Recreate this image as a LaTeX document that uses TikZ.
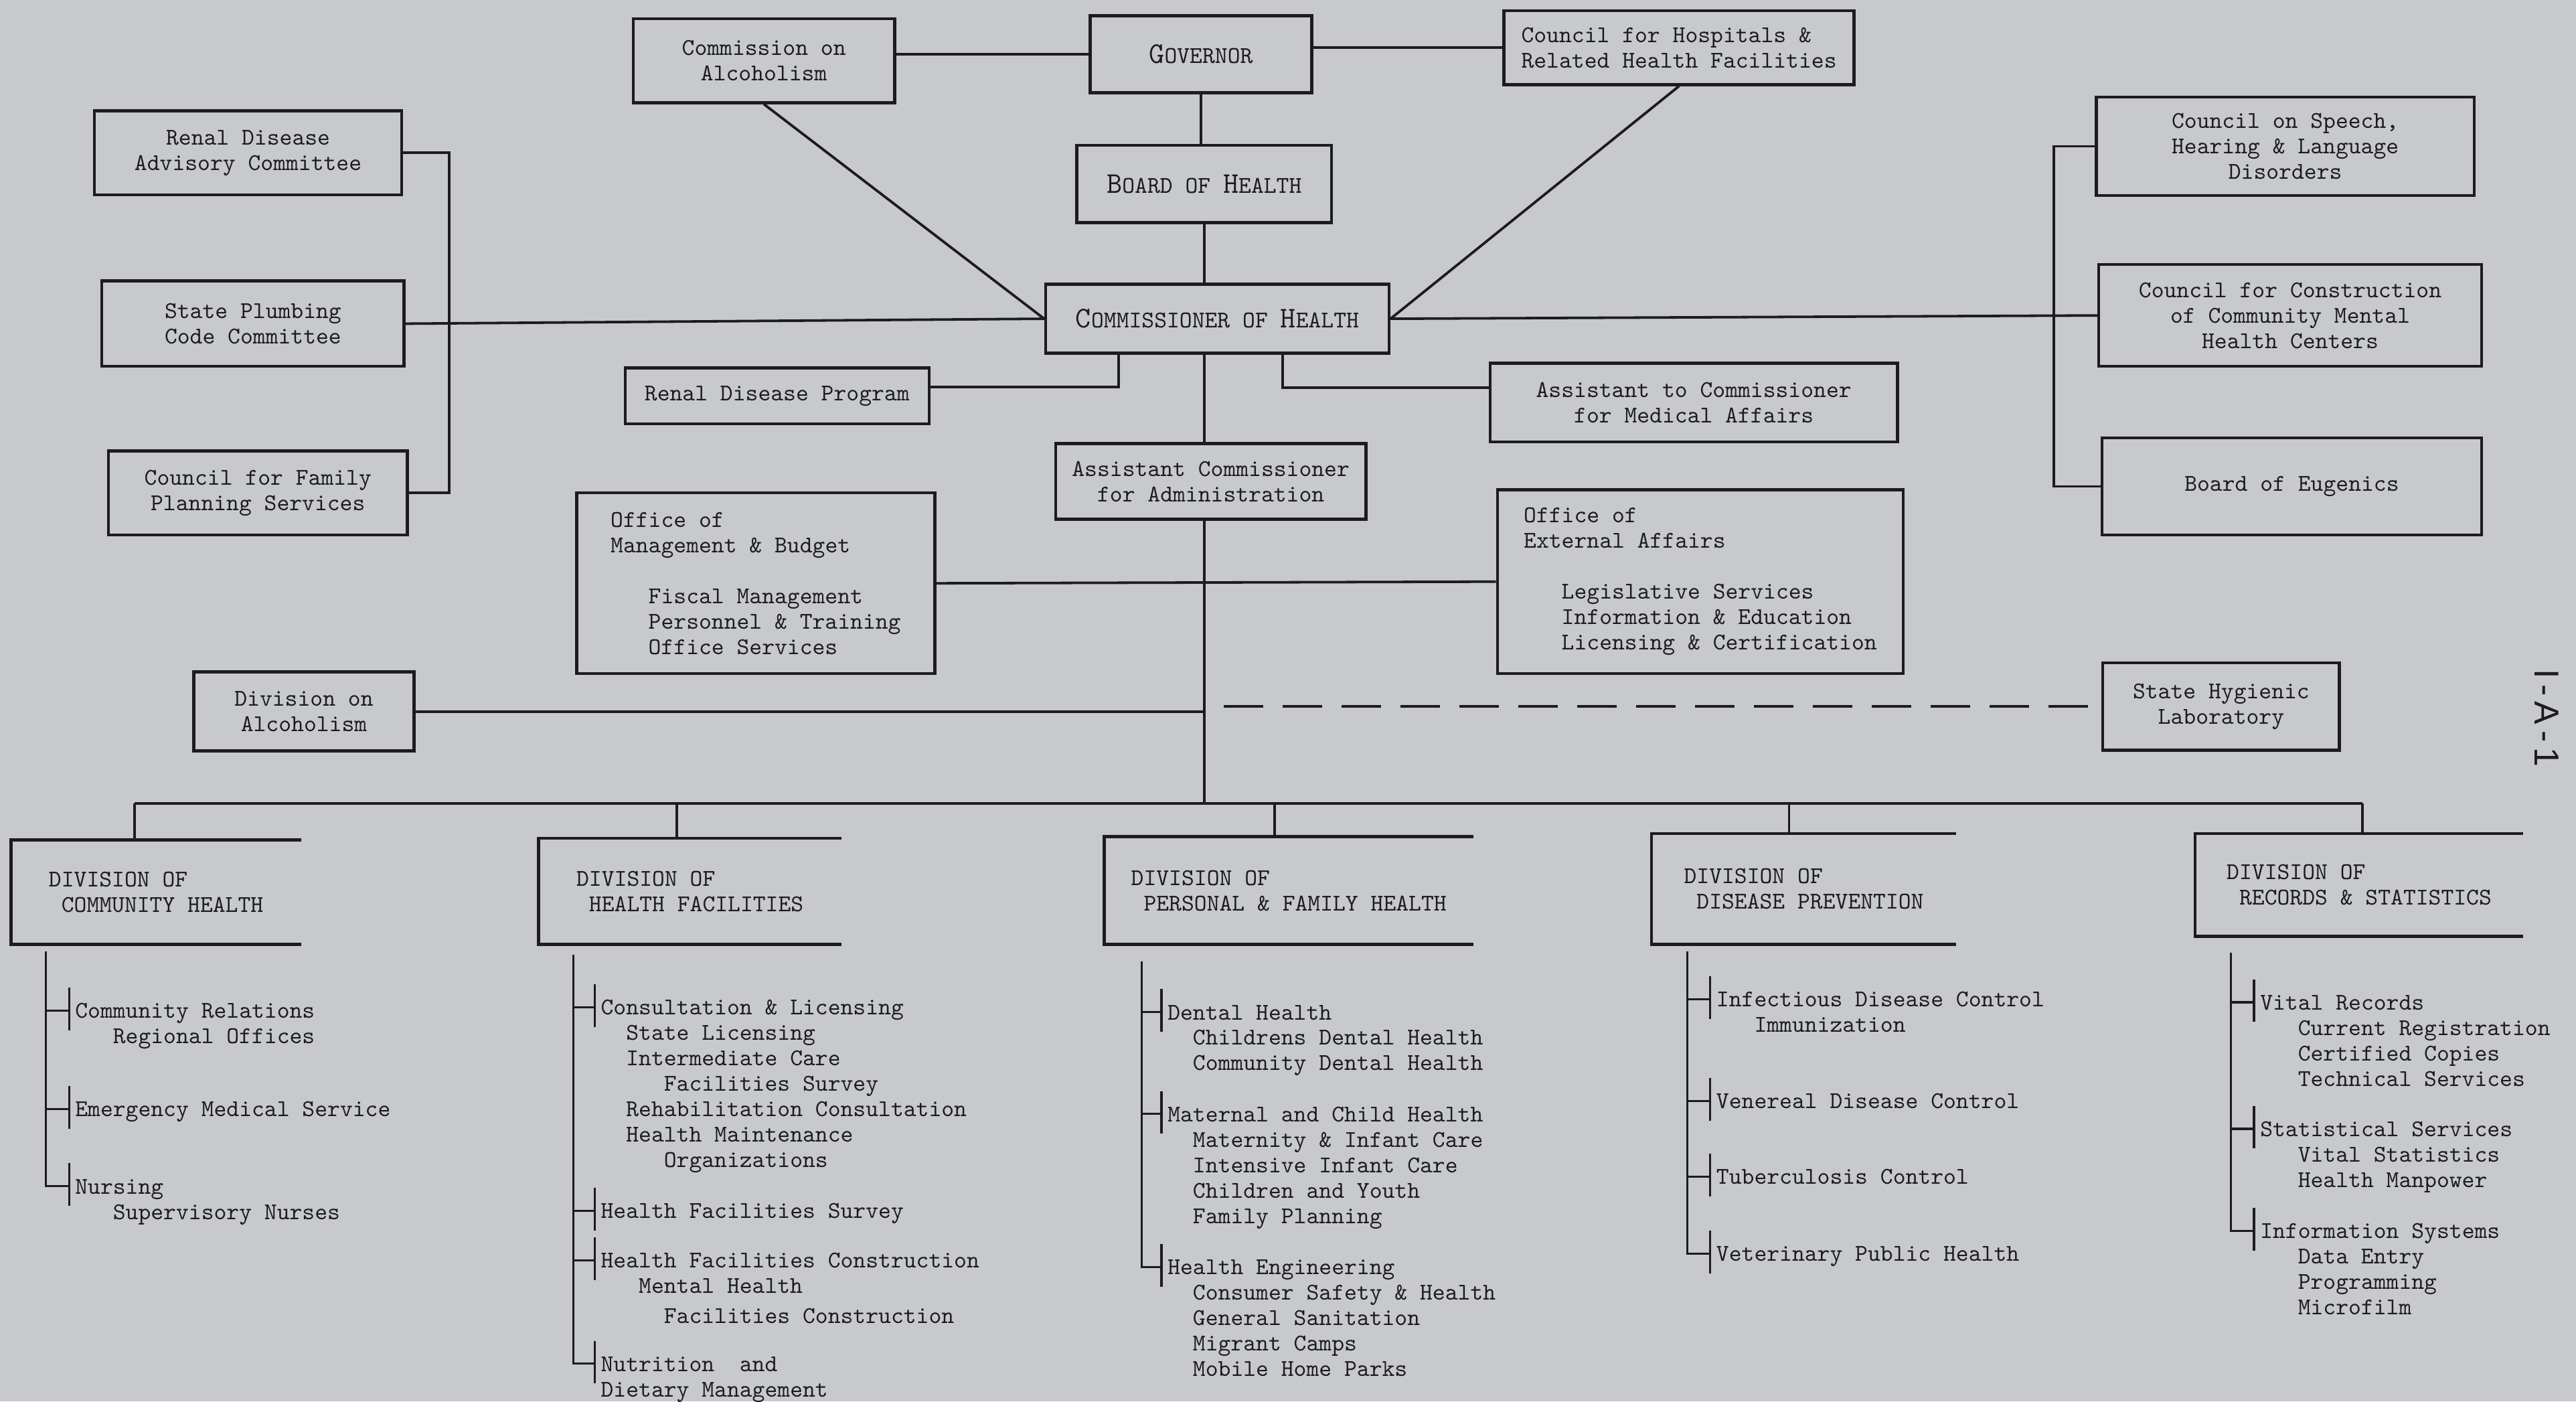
\documentclass[tikz,border=0pt]{standalone}
\usepackage{fontspec}
\setsansfont{Liberation Sans}
\usetikzlibrary{calc}
\definecolor{paper}{RGB}{199,201,205}
\definecolor{ink}{RGB}{28,28,30}
\newcommand\indt[1]{\hspace*{#1\fontcharwd\font`\0}}
\newcommand\capsc[2]{{\fontsize{13}{15}\selectfont #1}#2}

\begin{document}
\begin{tikzpicture}
  [x=0.025cm,y=-0.025cm,color=ink,line width=1.1pt,
   every node/.style={font=\ttfamily\fontsize{10.4}{11}\selectfont},
   box/.style 2 args={draw,line width=1.3pt,minimum width=#1*0.025cm,minimum height=#2*0.025cm,inner sep=2pt,align=center},
   lbox/.style 2 args={box={#1}{#2},align=left},
   divbox/.style 2 args={minimum width=#1*0.025cm,minimum height=#2*0.025cm,inner sep=2pt,align=left},
   item/.style={anchor=north west,align=left,inner sep=0pt},
   dashline/.style={line width=1.3pt,dash pattern=on 17pt off 8.5pt,dash phase=17pt},
   thinline/.style={line width=0.9pt}]
  \path[use as bounding box,fill=paper] (0,0) rectangle (1568,853);

  \node[box={135}{47}] (gov) at (731,33) {\capsc{G}{OVERNOR}};
  \node[box={159}{51}] (coa) at (465,37) {Commission on\\Alcoholism};
  \node[lbox={213}{45}] (chr) at (1022,29) {Council for Hospitals \&\\Related Health Facilities};
  \node[box={155}{47}] (boh) at (733,112) {\capsc{B}{OARD OF} \capsc{H}{EALTH}};
  \node[box={209}{42}] (coh) at (741,194) {\capsc{C}{OMMISSIONER OF} \capsc{H}{EALTH}};
  \node[box={187}{51}] (rda) at (151,93) {Renal Disease\\Advisory Committee};
  \node[box={184}{52}] (spc) at (154,197) {State Plumbing\\Code Committee};
  \node[box={182}{51}] (cfp) at (157,300) {Council for Family\\Planning Services};
  \node[box={185}{34}] (rdp) at (473,241) {Renal Disease Program};
  \node[box={248}{48}] (atc) at (1031,245) {Assistant to Commissioner\\for Medical Affairs};
  \node[box={189}{46}] (aca) at (737,293) {Assistant Commissioner\\for Administration};
  \node[lbox={218}{110}] (omb) at (460,355) {Office of\\Management \& Budget\\[11pt]\indt{3}Fiscal Management\\\indt{3}Personnel \& Training\\\indt{3}Office Services};
  \node[lbox={247}{112}] (oea) at (1035,354) {Office of\\External Affairs\\[11pt]\indt{3}Legislative Services\\\indt{3}Information \& Education\\\indt{3}Licensing \& Certification};
  \node[box={134}{48}] (doa) at (185,433) {Division on\\Alcoholism};
  \node[box={144}{53}] (shl) at (1352,430) {State Hygienic\\Laboratory};
  \node[box={230}{60}] (csh) at (1391,89) {Council on Speech,\\Hearing \& Language\\Disorders};
  \node[box={233}{62}] (ccm) at (1394,192) {Council for Construction\\of Community Mental\\Health Centers};
  \node[box={231}{59}] (boe) at (1395,296) {Board of Eugenics};

  \node[divbox={175}{62}] (ch) at (95,543) {DIVISION OF\\\indt{1}COMMUNITY HEALTH};
  \node[divbox={183}{63}] (hf) at (420,542.5) {DIVISION OF\\\indt{1}HEALTH FACILITIES};
  \node[divbox={223}{64}] (pf) at (784.5,542) {DIVISION OF\\\indt{1}PERSONAL \& FAMILY HEALTH};
  \node[divbox={184}{66}] (dp) at (1098,541) {DIVISION OF\\\indt{1}DISEASE PREVENTION};
  \node[divbox={198}{61}] (rs) at (1436,538.5) {DIVISION OF\\\indt{1}RECORDS \& STATISTICS};

  \coordinate (sp) at (733,489);
  \coordinate (d1) at (82,489);
  \coordinate (d2) at (412,489);
  \coordinate (d3) at (776,489);
  \coordinate (d4) at (1089,489);
  \coordinate (d5) at (1438,489);
  \coordinate (chv) at (28,579);
  \coordinate (hfv) at (349,581);
  \coordinate (pfv) at (695,585);
  \coordinate (dpv) at (1027,579);
  \coordinate (rsv) at (1358,580);

  \node[item] (ch1) at (45,608) {\strut Community Relations\\\indt{3}Regional Offices};
  \node[item] (ch2) at (45,668) {\strut Emergency Medical Service};
  \node[item] (ch3) at (45,715) {\strut Nursing\\\indt{3}Supervisory Nurses};
  \node[item] (hf1) at (365,606) {\strut Consultation \& Licensing\\\indt{2}State Licensing\\\indt{2}Intermediate Care\\\indt{5}Facilities Survey\\\indt{2}Rehabilitation Consultation\\\indt{2}Health Maintenance\\\indt{5}Organizations};
  \node[item] (hf2) at (365,730) {\strut Health Facilities Survey};
  \node[item] (hf3) at (365,760) {\strut Health Facilities Construction\\\indt{3}Mental Health\\[2pt]\indt{5}Facilities Construction};
  \node[item] (hf4) at (365,823) {\strut Nutrition\indt{2}and\\Dietary Management};
  \node[item] (pf1) at (710,609) {\strut Dental Health\\\indt{2}Childrens Dental Health\\\indt{2}Community Dental Health};
  \node[item] (pf2) at (710,671) {\strut Maternal and Child Health\\\indt{2}Maternity \& Infant Care\\\indt{2}Intensive Infant Care\\\indt{2}Children and Youth\\\indt{2}Family Planning};
  \node[item] (pf3) at (710,764) {\strut Health Engineering\\\indt{2}Consumer Safety \& Health\\\indt{2}General Sanitation\\\indt{2}Migrant Camps\\\indt{2}Mobile Home Parks};
  \node[item] (dp1) at (1044,601) {\strut Infectious Disease Control\\\indt{3}Immunization};
  \node[item] (dp2) at (1044,663) {\strut Venereal Disease Control};
  \node[item] (dp3) at (1044,709) {\strut Tuberculosis Control};
  \node[item] (dp4) at (1044,756) {\strut Veterinary Public Health};
  \node[item] (rs1) at (1375,603) {\strut Vital Records\\\indt{3}Current Registration\\\indt{3}Certified Copies\\\indt{3}Technical Services};
  \node[item] (rs2) at (1375,680) {\strut Statistical Services\\\indt{3}Vital Statistics\\\indt{3}Health Manpower};
  \node[item] (rs3) at (1375,742) {\strut Information Systems\\\indt{3}Data Entry\\\indt{3}Programming\\\indt{3}Microfilm};

  \node[font=\sffamily\fontsize{15}{18}\selectfont,rotate=-90] (pg) at (1550,437) {I\,-\,A\,-\,1};

  \draw (coa.east |- gov) -- (gov.west);
  \draw (gov.east |- chr) -- (chr.west);
  \draw (gov.south) -- (gov.south |- boh.north);
  \draw (boh.south) -- (boh.south |- coh.north);
  \draw (coa.south) -- (coh.west);
  \draw (chr.south) -- (coh.east);
  \draw (spc.east) -- (coh.west);
  \draw (coh.east) -- (ccm.west);
  \draw (rda.east) -- ++(28,0) |- (cfp.east);
  \draw (csh.west) -- ++(-25,0) |- (boe.west);
  \draw ($(rdp.north east)!0.35!(rdp.south east)$) -| ($(coh.south west)!0.215!(coh.south east)$);
  \draw ($(atc.north west)!0.32!(atc.south west)$) -| ($(coh.south west)!0.689!(coh.south east)$);
  \draw (coh.south -| sp) -- (aca.north -| sp);
  \draw (aca.south -| sp) -- (sp);
  \draw (omb.east) -- (oea.west);
  \draw (doa.east) -- (doa.east -| sp);
  \draw[dashline] (shl.west -| sp) -- (shl.west);
  \draw[line width=1.3pt] (d1) -- (d5);

  \foreach \from/\to in {d1/ch,d2/hf,d3/pf,d4/dp,d5/rs}
    \draw (\from) -- (\from |- \to.north);
  \foreach \to in {ch,hf,pf,dp,rs}
    \draw[line width=1.3pt] (\to.north east) -- (\to.north west) -- (\to.south west) -- (\to.south east);
  \foreach \from/\to in {chv/ch1,chv/ch2,chv/ch3,hfv/hf1,hfv/hf2,hfv/hf3,hfv/hf4,pfv/pf1,pfv/pf2,pfv/pf3,dpv/dp1,dpv/dp2,dpv/dp3,dpv/dp4,rsv/rs1,rsv/rs2,rsv/rs3}
    \draw[thinline] (\from) |- ($(\to.north west)+(-3,7)$) ($(\to.north west)+(-3,-7)$) -- ++(0,26);

\end{tikzpicture}
\end{document}
